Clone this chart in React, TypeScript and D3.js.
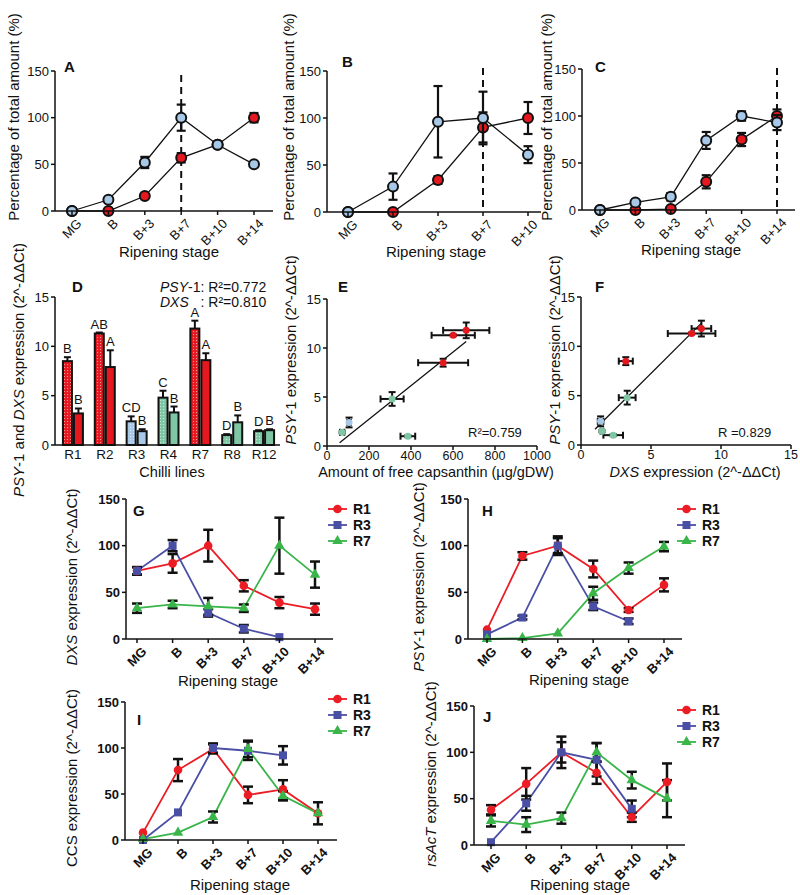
import React from "react";
import * as d3 from "d3";

const FONT = "'Liberation Sans', Arial, Helvetica, sans-serif";
const INK = "#111";
const RED = "#e5171f";
const LBLUE = "#a8c8e8";
const GREEN = "#7fc6a4";
const L_R1 = "#ec1c24";
const L_R3 = "#4a4fa6";
const L_R7 = "#39b54a";

const stages = ["MG", "B", "B+3", "B+7", "B+10", "B+14"];

// Panel A
const aBlue = [0, 12, 52, 100, 71, 50];
const aBlueErr = [0, 3, 6, 14, 3, 0];
const aRed = [0, 0, 16, 57, 71, 100];
const aRedErr = [0, 0, 0, 5, 3, 5];
// Panel B
const bBlue = [0, 27, 96, 100, 61];
const bBlueErr = [0, 14, 38, 28, 9];
const bRed = [0, 0, 34, 90, 100];
const bRedErr = [0, 0, 4, 16, 17];
// Panel C
const cBlue = [0, 8, 14, 74, 100, 93];
const cBlueErr = [0, 1, 4, 9, 5, 8];
const cRed = [0, 0, 1, 30, 75, 100];
const cRedErr = [0, 0, 1, 7, 7, 7];

// Panel D / E / F
const chilliLines = ["R1", "R2", "R3", "R4", "R7", "R8", "R12"];
const lineColors = ["red", "red", "blue", "green", "red", "green", "green"];
const psy = [8.5, 11.3, 2.4, 4.8, 11.8, 1.0, 1.4];
const psyErr = [0.4, 0.1, 0.5, 0.7, 0.8, 0.1, 0.1];
const dxs = [3.2, 7.9, 1.4, 3.3, 8.6, 2.3, 1.5];
const dxsErr = [0.5, 1.7, 0.2, 0.6, 0.7, 0.7, 0.1];
const psyLetters = ["B", "AB", "CD", "C", "A", "D", "D"];
const dxsLetters = ["B", "A", "B", "B", "A", "B", "B"];
const capsanthin = [553, 601, 105, 310, 663, 385, 72];
const capsanthinErr = [119, 103, 8, 55, 110, 35, 10];

// Panels G-J
const gR1 = [73, 81, 100, 57, 39, 32];
const gR1Err = [4, 10, 17, 6, 6, 6];
const gR3 = [73, 100, 28, 11, 2];
const gR3Err = [4, 6, 4, 4, 0];
const gR7 = [33, 37, 35, 33, 100, 69];
const gR7Err = [5, 4, 9, 4, 30, 14];

const hR1 = [10, 89, 100, 75, 31, 58];
const hR1Err = [0, 4, 8, 9, 2, 7];
const hR3 = [5, 23, 100, 35, 19];
const hR3Err = [0, 2, 10, 4, 3];
const hR7 = [0, 1, 6, 49, 76, 99];
const hR7Err = [0, 0, 0, 7, 6, 5];

const iR1 = [8, 76, 99, 49, 55, 29];
const iR1Err = [0, 12, 5, 9, 10, 12];
const iR3 = [0, 30, 100, 97, 92];
const iR3Err = [0, 0, 5, 10, 10];
const iR7 = [1, 8, 25, 99, 48, 29];
const iR7Err = [0, 0, 6, 9, 5, 0];

const jR1 = [38, 66, 100, 78, 30, 68];
const jR1Err = [5, 17, 17, 12, 5, 20];
const jR3 = [3, 45, 100, 92, 39];
const jR3Err = [0, 8, 11, 18, 9];
const jR7 = [26, 22, 29, 100, 70, 50];
const jR7Err = [6, 8, 6, 10, 9, 20];

const colorOf: Record<string, string> = { red: RED, blue: LBLUE, green: GREEN };

function ErrV({ x, y0, y1, hw = 4, sw = 2 }: any) {
  return (
    <g stroke={INK} strokeWidth={sw}>
      <line x1={x} x2={x} y1={y0} y2={y1} />
      <line x1={x - hw} x2={x + hw} y1={y0} y2={y0} />
      <line x1={x - hw} x2={x + hw} y1={y1} y2={y1} />
    </g>
  );
}
function ErrH({ y, x0, x1, hw = 4, sw = 2 }: any) {
  return (
    <g stroke={INK} strokeWidth={sw}>
      <line x1={x0} x2={x1} y1={y} y2={y} />
      <line x1={x0} x2={x0} y1={y - hw} y2={y + hw} />
      <line x1={x1} x2={x1} y1={y - hw} y2={y + hw} />
    </g>
  );
}

function YAxis({ scale, x, ticks, bold = false, fs = 13 }: any) {
  const dom = scale.domain();
  return (
    <g>
      <line x1={x} x2={x} y1={scale(dom[0])} y2={scale(dom[1])} stroke={INK} strokeWidth={1.5} />
      {ticks.map((t: number) => (
        <g key={t}>
          <line x1={x - 4} x2={x} y1={scale(t)} y2={scale(t)} stroke={INK} strokeWidth={1.5} />
          <text x={x - 6} y={scale(t)} dy="0.36em" textAnchor="end" fontSize={fs} fontWeight={bold ? "bold" : "normal"} fill={INK}>
            {t}
          </text>
        </g>
      ))}
    </g>
  );
}

function XAxisCat({ scale, cats, y, x0, x1, bold = false, fs = 13 }: any) {
  return (
    <g>
      <line x1={x0} x2={x1} y1={y} y2={y} stroke={INK} strokeWidth={1.5} />
      {cats.map((c: string) => (
        <g key={c}>
          <line x1={scale(c)} x2={scale(c)} y1={y} y2={y + 4} stroke={INK} strokeWidth={1.5} />
          <text
            transform={`translate(${scale(c) + 4},${y + 7}) rotate(-45)`}
            textAnchor="end"
            dy="0.7em"
            fontSize={fs}
            fontWeight={bold ? "bold" : "normal"}
            fill={INK}
          >
            {c}
          </text>
        </g>
      ))}
    </g>
  );
}

function YLabel({ x, y, children, fs = 15 }: any) {
  return (
    <text transform={`translate(${x},${y}) rotate(-90)`} textAnchor="middle" fontSize={fs} fill={INK}>
      {children}
    </text>
  );
}

function PctPanel(p: any) {
  const cats = stages.slice(0, p.blue.length);
  const x = d3.scalePoint<string>().domain(cats).range(p.xr);
  const y = d3.scaleLinear().domain([0, 150]).range(p.yr);
  const line = d3.line<number>().x((_, i) => x(cats[i])!).y((d) => y(d));
  const series = [
    { v: p.red, e: p.redErr, fill: RED },
    { v: p.blue, e: p.blueErr, fill: LBLUE },
  ];
  const xd = x(cats[p.dashAt])!;
  return (
    <g>
      <line x1={xd} x2={xd} y1={p.dashY0} y2={y(0)} stroke={INK} strokeWidth={2} strokeDasharray="7,5" />
      {series.map((s, k) => (
        <g key={k}>
          <path d={line(s.v)!} fill="none" stroke={INK} strokeWidth={1.3} />
          {s.v.map((v: number, i: number) =>
            s.e[i] > 0 ? <ErrV key={i} x={x(cats[i])} y0={y(v - s.e[i])} y1={y(v + s.e[i])} hw={4.5} sw={2.2} /> : null
          )}
          {s.v.map((v: number, i: number) => (
            <circle key={"c" + i} cx={x(cats[i])} cy={y(v)} r={5} fill={s.fill} stroke={INK} strokeWidth={2} />
          ))}
        </g>
      ))}
      <YAxis scale={y} x={p.axX0} ticks={[0, 50, 100, 150]} />
      <XAxisCat scale={x} cats={cats} y={y(0)} x0={p.axX0} x1={p.axX1} />
      <text x={p.tx} y={p.ty} fontSize={15} fontWeight="bold" fill={INK}>
        {p.title}
      </text>
      <YLabel x={p.ylX} y={p.ylY}>Percentage of total amount (%)</YLabel>
      <text x={p.rsX} y={p.rsY} textAnchor="middle" fontSize={15} fill={INK}>
        Ripening stage
      </text>
    </g>
  );
}

function BarPanel() {
  const xb = d3.scaleBand<string>().domain(chilliLines).range([57, 280]);
  const y = d3.scaleLinear().domain([0, 15]).range([445, 297]);
  const bw = 9;
  return (
    <g>
      {chilliLines.map((l, i) => {
        const c = xb(l)! + xb.bandwidth() / 2;
        const col = lineColors[i];
        const bars = [
          { x: c - 10, v: psy[i], e: psyErr[i], fill: `url(#pat-${col})`, lab: psyLetters[i] },
          { x: c + 1, v: dxs[i], e: dxsErr[i], fill: colorOf[col], lab: dxsLetters[i] },
        ];
        return (
          <g key={l}>
            {bars.map((b, k) => (
              <g key={k}>
                <line x1={b.x + bw / 2} x2={b.x + bw / 2} y1={y(b.v)} y2={y(b.v + b.e)} stroke={INK} strokeWidth={2} />
                <line x1={b.x + bw / 2 - 3.5} x2={b.x + bw / 2 + 3.5} y1={y(b.v + b.e)} y2={y(b.v + b.e)} stroke={INK} strokeWidth={2} />
                <rect x={b.x} y={y(b.v)} width={bw} height={y(0) - y(b.v)} fill={b.fill} stroke={INK} strokeWidth={2} />
                <text x={b.x + bw / 2} y={y(b.v + b.e) - 4} textAnchor="middle" fontSize={13} fill={INK}>
                  {b.lab}
                </text>
              </g>
            ))}
            <text x={c} y={459} textAnchor="middle" fontSize={13.5} fill={INK}>
              {l}
            </text>
          </g>
        );
      })}
      <YAxis scale={y} x={55} ticks={[0, 5, 10, 15]} />
      <line x1={55} x2={280} y1={y(0)} y2={y(0)} stroke={INK} strokeWidth={1.5} />
      <text x={72} y={292} fontSize={15} fontWeight="bold" fill={INK}>D</text>
      <text x={160} y={292} fontSize={14} fill={INK}>
        <tspan fontStyle="italic">PSY</tspan>-1: R²=0.772
      </text>
      <text x={160} y={307} fontSize={14} fill={INK}>
        <tspan fontStyle="italic">DXS</tspan>
      </text>
      <text x={200.5} y={307} fontSize={14} fill={INK}>: R²=0.810</text>
      <text x={172} y={477} textAnchor="middle" fontSize={14.5} fill={INK}>Chilli lines</text>
      <YLabel x={24} y={370}>
        <tspan fontStyle="italic">PSY</tspan>-1 and <tspan fontStyle="italic">DXS</tspan> expression (2^-ΔΔCt)
      </YLabel>
    </g>
  );
}

function fit(xs: number[], ys: number[]) {
  const mx = d3.mean(xs)!;
  const my = d3.mean(ys)!;
  const sxy = d3.sum(xs, (v, i) => (v - mx) * (ys[i] - my));
  const sxx = d3.sum(xs, (v) => (v - mx) * (v - mx));
  const b = sxy / sxx;
  return { a: my - b * mx, b };
}

function ScatterPanel(p: any) {
  const x = d3.scaleLinear().domain(p.xDom).range(p.xr);
  const y = d3.scaleLinear().domain([0, 15]).range(p.yr);
  const { a, b } = fit(p.xs, psy);
  const xmin = d3.min(p.xs as number[])! - p.ext;
  const xmax = d3.max(p.xs as number[])!;
  return (
    <g>
      <line x1={x(xmin)} x2={x(xmax)} y1={y(a + b * xmin)} y2={y(a + b * xmax)} stroke={INK} strokeWidth={1.3} />
      {p.xs.map((xv: number, i: number) => (
        <g key={i}>
          <ErrH y={y(psy[i])} x0={x(xv - p.xe[i])} x1={x(xv + p.xe[i])} hw={3.5} sw={2} />
          <ErrV x={x(xv)} y0={y(psy[i] - psyErr[i])} y1={y(psy[i] + psyErr[i])} hw={3.5} sw={2} />
        </g>
      ))}
      {p.xs.map((xv: number, i: number) => (
        <circle key={"p" + i} cx={x(xv)} cy={y(psy[i])} r={3.5} fill={colorOf[lineColors[i]]} />
      ))}
      <YAxis scale={y} x={p.xr[0]} ticks={[0, 5, 10, 15]} />
      <line x1={p.xr[0]} x2={p.xr[1]} y1={y(0)} y2={y(0)} stroke={INK} strokeWidth={1.5} />
      {p.xTicks.map((t: number) => (
        <g key={t}>
          <line x1={x(t)} x2={x(t)} y1={y(0)} y2={y(0) + 4} stroke={INK} strokeWidth={1.5} />
          <text x={x(t)} y={y(0) + 14} textAnchor="middle" fontSize={12.5} fill={INK}>{t}</text>
        </g>
      ))}
      <text x={p.tx} y={292} fontSize={15} fontWeight="bold" fill={INK}>{p.title}</text>
      <text x={p.rX} y={437} fontSize={13} fill={INK}>{p.rText}</text>
      <text x={p.xlX} y={477} textAnchor="middle" fontSize={14.5} fill={INK}>{p.xLabel}</text>
      <YLabel x={p.ylX} y={350}>
        <tspan fontStyle="italic">PSY</tspan>-1 expression (2^-ΔΔCt)
      </YLabel>
    </g>
  );
}

function Marker({ kind, x, y, color }: any) {
  if (kind === "circle") return <circle cx={x} cy={y} r={4.3} fill={color} />;
  if (kind === "square") return <rect x={x - 4} y={y - 4} width={8} height={8} fill={color} />;
  const path = d3.symbol().type(d3.symbolTriangle).size(48)()!;
  return <path d={path} transform={`translate(${x},${y})`} fill={color} />;
}

function ExprPanel(p: any) {
  const x = d3.scalePoint<string>().domain(stages).range(p.xr);
  const y = d3.scaleLinear().domain([0, 150]).range(p.yr);
  const series = [
    { name: "R1", v: p.r1, e: p.r1e, color: L_R1, kind: "circle" },
    { name: "R3", v: p.r3, e: p.r3e, color: L_R3, kind: "square" },
    { name: "R7", v: p.r7, e: p.r7e, color: L_R7, kind: "triangle" },
  ];
  const line = d3.line<number>().x((_, i) => x(stages[i])!).y((d) => y(d));
  return (
    <g>
      {series.map((s) => (
        <path key={s.name} d={line(s.v)!} fill="none" stroke={s.color} strokeWidth={1.8} />
      ))}
      {series.map((s) =>
        s.v.map((v: number, i: number) =>
          s.e[i] > 0 ? (
            <ErrV key={s.name + i} x={x(stages[i])} y0={y(v - s.e[i])} y1={y(v + s.e[i])} hw={5} sw={2.5} />
          ) : null
        )
      )}
      {series.map((s) =>
        s.v.map((v: number, i: number) => <Marker key={s.name + "m" + i} kind={s.kind} x={x(stages[i])} y={y(v)} color={s.color} />)
      )}
      <YAxis scale={y} x={p.axX0} ticks={[0, 50, 100, 150]} bold />
      <XAxisCat scale={x} cats={stages} y={y(0)} x0={p.axX0} x1={p.axX1} bold />
      <text x={p.tx} y={p.ty} fontSize={15} fontWeight="bold" fill={INK}>{p.title}</text>
      <YLabel x={p.ylX} y={p.ylY}>{p.ylab}</YLabel>
      <text x={p.rsX} y={p.rsY} textAnchor="middle" fontSize={15} fill={INK}>Ripening stage</text>
      {series.map((s, k) => {
        const ly = p.legY + k * 16;
        return (
          <g key={"l" + s.name}>
            <line x1={p.legX} x2={p.legX + 19} y1={ly} y2={ly} stroke={s.color} strokeWidth={1.8} />
            <Marker kind={s.kind} x={p.legX + 9.5} y={ly} color={s.color} />
            <text x={p.legX + 25} y={ly} dy="0.36em" fontSize={14} fontWeight="bold" fill={INK}>{s.name}</text>
          </g>
        );
      })}
    </g>
  );
}

export default function App() {
  return (
    <svg width={800} height={895} style={{ position: "absolute", left: 0, top: 0, background: "#fff" }} fontFamily={FONT}>
      <defs>
        {Object.keys(colorOf).map((k) => (
          <pattern key={k} id={`pat-${k}`} width={3} height={3} patternUnits="userSpaceOnUse">
            <rect width={3} height={3} fill={colorOf[k]} />
            <rect x={1} y={1} width={1.1} height={1.1} fill="#fff" opacity={0.55} />
          </pattern>
        ))}
      </defs>
      <PctPanel title="A" tx={64} ty={72} axX0={55} axX1={273} xr={[72, 254]} yr={[211, 71]}
        blue={aBlue} blueErr={aBlueErr} red={aRed} redErr={aRedErr} dashAt={3} dashY0={75}
        ylX={19} ylY={117} rsX={169} rsY={257} />
      <PctPanel title="B" tx={342} ty={67} axX0={327} axX1={541} xr={[348, 528]} yr={[212, 71]}
        blue={bBlue} blueErr={bBlueErr} red={bRed} redErr={bRedErr} dashAt={3} dashY0={68}
        ylX={294} ylY={117} rsX={436} rsY={257} />
      <PctPanel title="C" tx={595} ty={72} axX0={582} axX1={795} xr={[600, 777]} yr={[210, 69]}
        blue={cBlue} blueErr={cBlueErr} red={cRed} redErr={cRedErr} dashAt={5} dashY0={68}
        ylX={552} ylY={117} rsX={691} rsY={255} />
      <BarPanel />
      <ScatterPanel title="E" tx={338} xDom={[0, 1000]} xr={[327, 537]} yr={[446, 299]} xs={capsanthin} xe={capsanthinErr}
        xTicks={[0, 200, 400, 600, 800, 1000]} ext={12} rX={468} rText="R²=0.759" xlX={436}
        xLabel="Amount of free capsanthin (µg/gDW)" ylX={296} />
      <ScatterPanel title="F" tx={595} xDom={[0, 15]} xr={[581, 791]} yr={[445, 297]} xs={dxs} xe={dxsErr}
        xTicks={[0, 5, 10, 15]} ext={0.4} rX={718} rText="R =0.829" xlX={695}
        xLabel={<><tspan fontStyle="italic">DXS</tspan> expression (2^-ΔΔCt)</>} ylX={560} />
      <ExprPanel title="G" tx={133} ty={516} axX0={126} axX1={333} xr={[137, 315]} yr={[639, 499]}
        r1={gR1} r1e={gR1Err} r3={gR3} r3e={gR3Err} r7={gR7} r7e={gR7Err}
        ylX={77} ylY={577} ylab={<><tspan fontStyle="italic">DXS</tspan> expression (2^-ΔΔCt)</>}
        rsX={228} rsY={686} legX={328} legY={509} />
      <ExprPanel title="H" tx={482} ty={516} axX0={468} axX1={682} xr={[487, 664]} yr={[639, 499]}
        r1={hR1} r1e={hR1Err} r3={hR3} r3e={hR3Err} r7={hR7} r7e={hR7Err}
        ylX={424} ylY={577} ylab={<><tspan fontStyle="italic">PSY</tspan>-1 expression (2^-ΔΔCt)</>}
        rsX={579} rsY={685} legX={677} legY={509} />
      <ExprPanel title="I" tx={137} ty={725} axX0={125} axX1={337} xr={[143, 318]} yr={[840, 702]}
        r1={iR1} r1e={iR1Err} r3={iR3} r3e={iR3Err} r7={iR7} r7e={iR7Err}
        ylX={77} ylY={778} ylab={<>CCS expression (2^-ΔΔCt)</>}
        rsX={240} rsY={890} legX={328} legY={699} />
      <ExprPanel title="J" tx={483} ty={722} axX0={474} axX1={685} xr={[491, 667]} yr={[845, 706]}
        r1={jR1} r1e={jR1Err} r3={jR3} r3e={jR3Err} r7={jR7} r7e={jR7Err}
        ylX={436} ylY={774} ylab={<><tspan fontStyle="italic">rsAcT</tspan> expression (2^-ΔΔCt)</>}
        rsX={580} rsY={890} legX={677} legY={710} />
    </svg>
  );
}
